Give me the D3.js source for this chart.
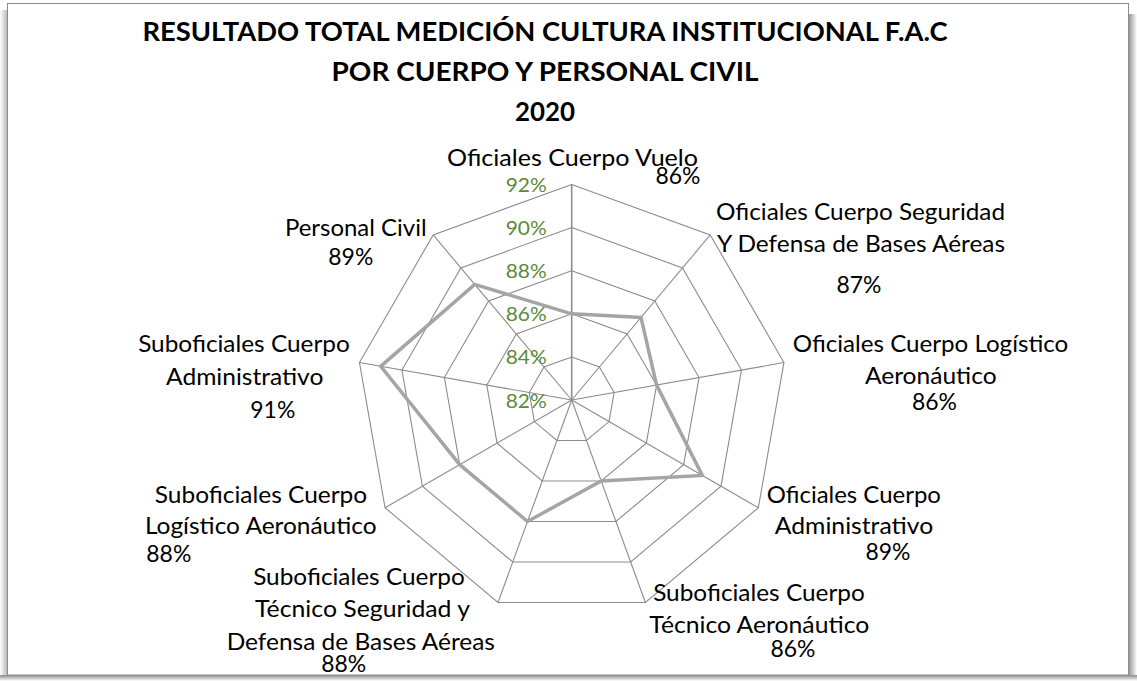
<!DOCTYPE html>
<html>
<head>
<meta charset="utf-8">
<script src="https://cdn.jsdelivr.net/npm/d3@7"></script>
<style>
  html, body { margin: 0; padding: 0; background: #ffffff; }
  svg { display: block; }
  text { font-family: Lato, "Open Sans", sans-serif; }
</style>
</head>
<body>
<svg id="chart" width="1137" height="681"></svg>
<script>
// ---------------- DATA ----------------
const titleLines = [
  "RESULTADO TOTAL MEDICIÓN CULTURA INSTITUCIONAL F.A.C",
  "POR CUERPO Y PERSONAL CIVIL",
  "2020"
];
const categories = [
  "Oficiales Cuerpo Vuelo",
  "Oficiales Cuerpo Seguridad\nY Defensa de Bases Aéreas",
  "Oficiales Cuerpo Logístico\nAeronáutico",
  "Oficiales Cuerpo\nAdministrativo",
  "Suboficiales Cuerpo\nTécnico Aeronáutico",
  "Suboficiales Cuerpo\nTécnico Seguridad y\nDefensa de Bases Aéreas",
  "Suboficiales Cuerpo\nLogístico Aeronáutico",
  "Suboficiales Cuerpo\nAdministrativo",
  "Personal Civil"
];
const values = [86, 87, 86, 89, 86, 88, 88, 91, 89];
const tickValues = [82, 84, 86, 88, 90, 92];
const tickLabels = ["82%", "84%", "86%", "88%", "90%", "92%"];

// ---------------- LAYOUT (label anchors: [centerX, baseline, width]) ----------------
const nameAnchors = [
  [[572.5, 166, 251]],
  [[860.5, 220, 289], [861, 251.7, 288]],
  [[930.5, 351.7, 275.6], [930.8, 384, 131.7]],
  [[853.8, 503.3, 174.3], [854, 534.3, 158.3]],
  [[759, 600.7, 211.7], [759.3, 633.3, 220]],
  [[359, 585, 211.7], [362.5, 616.7, 215], [360.8, 650, 268.3]],
  [[261, 503.3, 212.3], [260.8, 534, 231.7]],
  [[244, 351.7, 211.7], [244.7, 385, 157.3]],
  [[355.8, 236, 141.7]]
];
const valueAnchors = [
  [678, 184], [859, 293.3], [934.5, 410], [888, 560], [793, 656.7],
  [343.7, 671.7], [168.8, 561.7], [272.8, 418.3], [350.8, 265]
];

const W = 1137, H = 681;
const cx = 571.7, cy = 400, R = 215.5;

const svg = d3.select("#chart");

// ---------------- FRAME ----------------
const defs = svg.append("defs");
const gR = defs.append("linearGradient").attr("id", "shR").attr("x1", 0).attr("x2", 1).attr("y1", 0).attr("y2", 0);
gR.append("stop").attr("offset", 0).attr("stop-color", "#8a8a8a");
gR.append("stop").attr("offset", 1).attr("stop-color", "#ffffff");
const gB = defs.append("linearGradient").attr("id", "shB").attr("x1", 0).attr("x2", 0).attr("y1", 0).attr("y2", 1);
gB.append("stop").attr("offset", 0).attr("stop-color", "#8a8a8a");
gB.append("stop").attr("offset", 1).attr("stop-color", "#ffffff");
const gL = defs.append("linearGradient").attr("id", "shL").attr("x1", 1).attr("x2", 0).attr("y1", 0).attr("y2", 0);
gL.append("stop").attr("offset", 0).attr("stop-color", "#b0b0b0");
gL.append("stop").attr("offset", 1).attr("stop-color", "#ffffff");

svg.append("rect").attr("x", 0).attr("y", 0).attr("width", W).attr("height", H).attr("fill", "#ffffff");
svg.append("rect").attr("x", 1128).attr("y", 14).attr("width", 9).attr("height", 667).attr("fill", "url(#shR)");
svg.append("rect").attr("x", 0).attr("y", 675).attr("width", 1137).attr("height", 6).attr("fill", "url(#shB)");
svg.append("rect").attr("x", 0).attr("y", 10).attr("width", 8).attr("height", 665).attr("fill", "url(#shL)");
svg.append("rect").attr("x", 7.5).attr("y", 3.5).attr("width", 1121).attr("height", 671.5)
  .attr("fill", "#ffffff").attr("stroke", "#8c8c8c").attr("stroke-width", 1);

// ---------------- TITLE ----------------
const titleBaselines = [41, 81, 121];
const titleWidths = [805, 427, 60];
const titleG = svg.append("g");
titleLines.forEach((t, i) => {
  titleG.append("text")
    .attr("x", 545).attr("y", titleBaselines[i])
    .attr("text-anchor", "middle")
    .attr("font-size", 27).attr("font-weight", 700).attr("fill", "#000")
    .attr("textLength", titleWidths[i]).attr("lengthAdjust", "spacingAndGlyphs")
    .text(t);
});

// ---------------- RADAR ----------------
const n = categories.length;
const angle = d3.scaleLinear().domain([0, n]).range([0, 2 * Math.PI]);
const r = d3.scaleLinear().domain([tickValues[0], tickValues[tickValues.length - 1]]).range([0, R]);
const pt = (i, v) => [cx + r(v) * Math.sin(angle(i)), cy - r(v) * Math.cos(angle(i))];

const grid = svg.append("g");
// rings
tickValues.slice(1).forEach(tv => {
  const pts = d3.range(n).map(i => pt(i, tv));
  grid.append("path")
    .attr("d", d3.line()(pts.concat([pts[0]])))
    .attr("fill", "none").attr("stroke", "#8c8c8c").attr("stroke-width", 1.1);
});
// spokes
d3.range(n).forEach(i => {
  const [x, y] = pt(i, tickValues[tickValues.length - 1]);
  grid.append("line").attr("x1", cx).attr("y1", cy).attr("x2", x).attr("y2", y)
    .attr("stroke", "#8c8c8c").attr("stroke-width", i === 0 ? 1.6 : 1.1);
});

// data line
const dataPts = values.map((v, i) => pt(i, v));
svg.append("path")
  .attr("d", d3.line()(dataPts.concat([dataPts[0]])))
  .attr("fill", "none").attr("stroke", "#a5a5a5").attr("stroke-width", 3.5)
  .attr("stroke-linejoin", "miter");

// tick labels
svg.append("g").selectAll("text").data(tickValues).join("text")
  .attr("x", cx - 25).attr("y", d => cy - r(d) + 7.5)
  .attr("text-anchor", "end")
  .attr("font-size", 18.5).attr("fill", "#5a8a3a")
  .attr("textLength", 41).attr("lengthAdjust", "spacingAndGlyphs")
  .text((d, i) => tickLabels[i]);

// category labels
const labG = svg.append("g");
categories.forEach((c, i) => {
  const lines = c.split("\n");
  lines.forEach((ln, j) => {
    const a = nameAnchors[i][j];
    labG.append("text")
      .attr("x", a[0]).attr("y", a[1])
      .attr("text-anchor", "middle")
      .attr("font-size", 22.3).attr("fill", "#000")
      .attr("textLength", a[2]).attr("lengthAdjust", "spacingAndGlyphs")
      .text(ln);
  });
  const va = valueAnchors[i];
  labG.append("text")
    .attr("x", va[0]).attr("y", va[1])
    .attr("text-anchor", "middle")
    .attr("font-size", 22.3).attr("fill", "#000")
    .attr("textLength", 45).attr("lengthAdjust", "spacingAndGlyphs")
    .text(values[i] + "%");
});
</script>
</body>
</html>
